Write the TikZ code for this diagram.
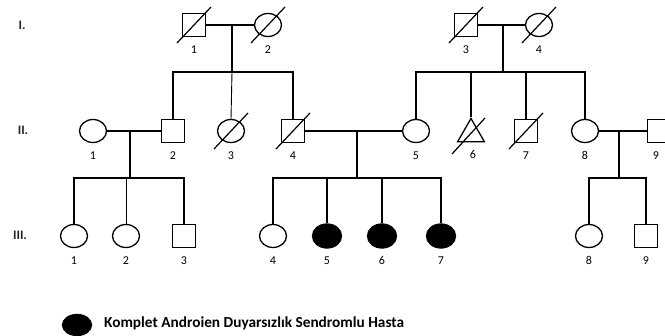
\documentclass[tikz,border=0pt]{standalone}
\usepackage{fontspec}
\setmainfont{Carlito}
\usetikzlibrary{shapes.geometric}

\begin{document}
\begin{tikzpicture}[x=1pt,y=-1pt]
    \useasboundingbox (0,0) rectangle (665,336);
    \tikzset{num/.style={font=\fontsize{12}{14}\selectfont, inner sep=1pt, label distance=7pt},
             gen/.style={font=\bfseries\fontsize{13}{15}\selectfont, text=black!85},
             person/.style={draw, line width=1.3pt, inner sep=0pt},
             male/.style={person, rectangle, minimum size=23pt},
             female/.style={person, ellipse, minimum width=27pt, minimum height=23pt},
             affected/.style={female, fill=black, minimum width=29pt, minimum height=24pt},
             lost/.style={person, regular polygon, regular polygon sides=3, minimum size=31pt},
             tie/.style={line width=1.3pt},
             thin tie/.style={line width=0.9pt},
             slash/.style={line width=1.2pt}}
    \newcommand{\dead}[1]{\draw[slash] ([shift={(-17pt,-18pt)}]#1.center) -- ([shift={(17pt,18pt)}]#1.center);}

    \node[gen] (gI) at (22,25) {I.};
    \node[gen] (gII) at (23,130) {II.};
    \node[gen] (gIII) at (20,235) {III.};

    \node[male, label={[num]below:1}] (I1) at (194,25) {};
    \node[female, label={[num]below:2}] (I2) at (268,25) {};
    \node[male, label={[num]below:3}] (I3) at (466,25) {};
    \node[female, label={[num]below:4}] (I4) at (539,25) {};
    \dead{I1} \dead{I2} \dead{I3} \dead{I4}

    \node[female, label={[num]below:1}] (II1) at (93,131) {};
    \node[male, label={[num]below:2}] (II2) at (173,131) {};
    \node[female, label={[num]below:3}] (II3) at (231,131) {};
    \node[male, label={[num]below:4}] (II4) at (293,131) {};
    \node[female, label={[num]below:5}] (II5) at (416,131) {};
    \node[lost, label={[num, xshift=2pt]below:6}] (II6) at (471,134) {};
    \node[male, label={[num]below:7}] (II7) at (526,131) {};
    \node[female, label={[num]below:8}] (II8) at (585,131) {};
    \node[male, label={[num, xshift=-3pt]below:9}] (II9) at (659,131) {};
    \dead{II3} \dead{II4} \dead{II7}
    \draw[slash] ([shift={(-19pt,-20pt)}]II6.center) -- ([shift={(14pt,16pt)}]II6.center);

    \node[female, label={[num]below:1}] (III1) at (74,236) {};
    \node[female, label={[num]below:2}] (III2) at (126,236) {};
    \node[male, label={[num]below:3}] (III3) at (184,236) {};
    \node[female, label={[num]below:4}] (III4) at (273,236) {};
    \node[affected, label={[num]below:5}] (III5) at (327,236) {};
    \node[affected, label={[num]below:6}] (III6) at (382,236) {};
    \node[affected, label={[num]below:7}] (III7) at (441,236) {};
    \node[female, label={[num]below:8}] (III8) at (589,236) {};
    \node[male, label={[num]below:9}] (III9) at (646,236) {};

    \coordinate (mI1) at (232,25);
    \coordinate (sI1) at (232,72);
    \coordinate (mI2) at (503,25);
    \coordinate (sI2) at (503,72);
    \coordinate (mII1) at (130,131);
    \coordinate (sII1) at (130,178);
    \coordinate (mII2) at (357,131);
    \coordinate (sII2) at (357,178);
    \coordinate (mII3) at (619,131);
    \coordinate (sII3) at (619,178);

    \draw[tie] (I1) -- (I2);
    \draw[tie] (mI1) -- (sI1);
    \draw[tie] (II2.north) -- (II2.north |- sI1) -- (II4.north |- sI1) -- (II4.north);
    \draw[thin tie] (sI1) -- (II3.north);

    \draw[tie] (I3) -- (I4);
    \draw[tie] (mI2) -- (sI2);
    \draw[tie] (II5.north) -- (II5.north |- sI2) -- (II8.north |- sI2) -- (II8.north);
    \draw[tie] (II6.north |- sI2) -- (II6.north);
    \draw[tie] (II7.north |- sI2) -- (II7.north);

    \draw[tie] (II1) -- (II2);
    \draw[tie] (mII1) -- (sII1);
    \draw[tie] (III1.north) -- (III1.north |- sII1) -- (III3.north |- sII1) -- (III3.north);
    \draw[thin tie] (III2.north |- sII1) -- (III2.north);

    \draw[tie] (II4) -- (II5);
    \draw[tie] (mII2) -- (sII2);
    \draw[tie] (III4.north) -- (III4.north |- sII2) -- (III7.north |- sII2) -- (III7.north);
    \draw[tie] (III5.north |- sII2) -- (III5.north);
    \draw[tie] (III6.north |- sII2) -- (III6.north);

    \draw[tie] (II8) -- (II9);
    \draw[tie] (mII3) -- (sII3);
    \draw[tie] (III8.north) -- (III8.north |- sII3) -- (III9.north |- sII3) -- (III9.north);

    \node[affected, minimum height=21pt] (key) at (77,325) {};
    \node[anchor=west, font=\bfseries\fontsize{15.3}{17}\selectfont, inner sep=0pt] (keytext) at (104,323) {Komplet Androien Duyarsızlık Sendromlu Hasta};
\end{tikzpicture}
\end{document}
